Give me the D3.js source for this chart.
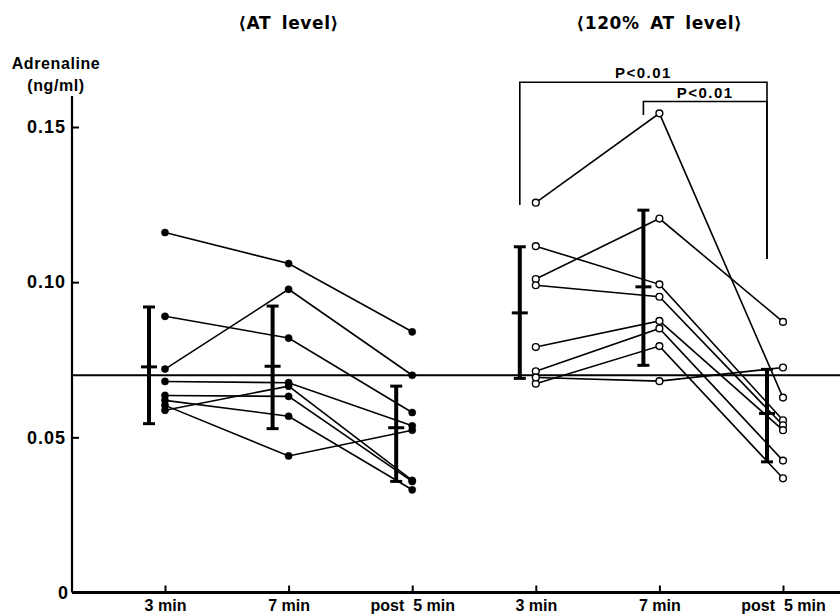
<!DOCTYPE html>
<html>
<head>
<meta charset="utf-8">
<script src="https://cdn.jsdelivr.net/npm/d3@7"></script>
<style>
  body { margin: 0; background: #fff; }
  text { font-family: "Liberation Sans", Arial, sans-serif; font-weight: bold; fill: #000; }
</style>
</head>
<body>
<div id="chart"></div>
<script>
// categories (two panels, three time points each)
const categories = ['at3', 'at7', 'atPost', 'hi3', 'hi7', 'hiPost']
const categoryLabels = ['3 min', '7 min', 'post  5 min', '3 min', '7 min', 'post  5 min']
const panelTitles = ['⟨AT level⟩', '⟨120% AT level⟩']
const yTicks = [0, 0.05, 0.10, 0.15]
const yTickLabels = ['0', '0.05', '0.10', '0.15']
const refLevel = 0.070

// individual subjects, AT level (3 min, 7 min, post 5 min)
const atSubjects = [
    [0.116, 0.106, 0.084],
    [0.072, 0.0977, 0.070],
    [0.089, 0.082, 0.058],
    [0.068, 0.0676, 0.0537],
    [0.0603, 0.044, 0.0523],
    [0.0587, 0.0665, 0.0361],
    [0.0635, 0.0632, 0.0358],
    [0.0619, 0.0568, 0.0331],
]

// individual subjects, 120% AT level
const hiSubjects = [
    [0.1256, 0.1544, 0.0628],
    [0.1010, 0.1205, 0.0872],
    [0.1116, 0.0993, 0.0555],
    [0.0990, 0.0953, 0.0539],
    [0.0791, 0.0875, 0.0523],
    [0.0713, 0.0851, 0.0425],
    [0.0673, 0.0794, 0.0368],
    [0.0693, 0.0681, 0.0725],
]

// mean and SD limits per time point
const atMean = [0.0727, 0.0729, 0.0531]
const atLow = [0.0544, 0.0528, 0.0358]
const atHigh = [0.092, 0.0923, 0.0665]
const hiMean = [0.0901, 0.0985, 0.0577]
const hiLow = [0.069, 0.0732, 0.0421]
const hiHigh = [0.1114, 0.1232, 0.0719]

// significance brackets
const brackets = [
    { from: 'hi3', to: 'hiPost', top: 0.1644, leftEnd: 0.1249, rightEnd: 0.1075, label: 'P<0.01' },
    { from: 'hi7', to: 'hiPost', top: 0.1582, leftEnd: 0.1539, rightEnd: 0.1075, label: 'P<0.01' },
]

const width = 840
const height = 616
const axisX = 72

const svg = d3.select('#chart')
    .append('svg')
    .attr('width', width)
    .attr('height', height)

const x = d3.scalePoint()
    .domain(categories)
    .range([165, 783])

const y = d3.scaleLinear()
    .domain([0, 0.15])
    .range([592.5, 127])

const barShift = -16

// axes
const yAxis = svg.append('g')
    .attr('transform', `translate(${axisX},0)`)
    .call(d3.axisLeft(y).tickValues(yTicks).tickSize(-7).tickPadding(6)
        .tickFormat((d, i) => yTickLabels[i]))
yAxis.select('.domain').attr('d', `M0,${y(0)}V96`).attr('stroke-width', 2.2)
yAxis.selectAll('.tick line').attr('stroke-width', 2)
yAxis.selectAll('.tick text').style('font-size', '18px').style('letter-spacing', '1px')
    .attr('fill', '#000').attr('font-family', null)
yAxis.selectAll('.tick').filter(d => d === 0).select('line').remove()
yAxis.selectAll('.tick').filter(d => d === 0).select('text').attr('x', -3)

const xAxis = svg.append('g')
    .attr('transform', `translate(0,${y(0)})`)
    .call(d3.axisBottom(x).tickSize(-7).tickPadding(6)
        .tickFormat((d, i) => categoryLabels[i]))
xAxis.select('.domain').attr('d', `M${axisX},0H${width}`).attr('stroke-width', 3)
xAxis.selectAll('.tick line').attr('stroke-width', 2)
xAxis.selectAll('.tick text').style('font-size', '16px').attr('fill', '#000')
    .attr('font-family', null).style('white-space', 'pre').attr('dy', '0.75em')

// y label
svg.append('text').attr('x', 56).attr('y', 69).attr('text-anchor', 'middle')
    .style('font-size', '16px').style('letter-spacing', '0.6px').text('Adrenaline')
svg.append('text').attr('x', 56).attr('y', 91).attr('text-anchor', 'middle')
    .style('font-size', '16px').style('letter-spacing', '0.6px').text('(ng/ml)')

// panel titles
svg.selectAll('.title')
    .data(panelTitles)
    .join('text')
    .attr('class', 'title')
    .attr('x', (d, i) => x(categories[i * 3 + 1]))
    .attr('y', 29)
    .attr('text-anchor', 'middle')
    .style('font-family', '"DejaVu Sans", sans-serif')
    .style('font-size', '17px')
    .style('letter-spacing', '0.6px')
    .style('word-spacing', '4px')
    .text(d => d)

// reference line
svg.append('line')
    .attr('x1', axisX).attr('x2', width)
    .attr('y1', y(refLevel)).attr('y2', y(refLevel))
    .attr('stroke', '#000').attr('stroke-width', 2)

const line = d3.line()
    .x(d => x(d.c))
    .y(d => y(d.v))

function drawPanel(subjects, keys, filled, mean, low, high) {
    const g = svg.append('g')
    const rows = subjects.map(s => s.map((v, i) => ({ c: keys[i], v })))

    g.selectAll('path.subj')
        .data(rows)
        .join('path')
        .attr('class', 'subj')
        .attr('d', line)
        .attr('fill', 'none')
        .attr('stroke', '#000')
        .attr('stroke-width', 1.6)

    // mean +- SD bars
    const stats = keys.map((k, i) => ({ c: k, m: mean[i], lo: low[i], hi: high[i] }))
    const bars = g.selectAll('g.bar')
        .data(stats)
        .join('g')
        .attr('class', 'bar')
        .attr('transform', d => `translate(${x(d.c) + barShift},0)`)
        .attr('stroke', '#000')
    bars.append('line')
        .attr('y1', d => y(d.lo)).attr('y2', d => y(d.hi))
        .attr('stroke-width', 4)
    bars.append('line')
        .attr('x1', -6).attr('x2', 6)
        .attr('y1', d => y(d.lo)).attr('y2', d => y(d.lo))
        .attr('stroke-width', 3)
    bars.append('line')
        .attr('x1', -6).attr('x2', 6)
        .attr('y1', d => y(d.hi)).attr('y2', d => y(d.hi))
        .attr('stroke-width', 3)
    bars.append('line')
        .attr('x1', -8).attr('x2', 8)
        .attr('y1', d => y(d.m)).attr('y2', d => y(d.m))
        .attr('stroke-width', 3)

    g.selectAll('circle')
        .data(rows.flat())
        .join('circle')
        .attr('cx', d => x(d.c))
        .attr('cy', d => y(d.v))
        .attr('r', filled ? 3.6 : 3.4)
        .attr('fill', filled ? '#000' : '#fff')
        .attr('stroke', '#000')
        .attr('stroke-width', filled ? 0.5 : 1.4)
}

drawPanel(atSubjects, categories.slice(0, 3), true, atMean, atLow, atHigh)
drawPanel(hiSubjects, categories.slice(3), false, hiMean, hiLow, hiHigh)

// significance brackets
brackets.forEach(b => {
    const x1 = x(b.from) + barShift
    const x2 = x(b.to) + barShift
    svg.append('path')
        .attr('d', `M${x1},${y(b.leftEnd)}V${y(b.top)}H${x2}V${y(b.rightEnd)}`)
        .attr('fill', 'none')
        .attr('stroke', '#000')
        .attr('stroke-width', 1.6)
    svg.append('text')
        .attr('x', (x1 + x2) / 2)
        .attr('y', y(b.top) - 4)
        .attr('text-anchor', 'middle')
        .style('font-size', '15px')
        .style('letter-spacing', '1.5px')
        .text(b.label)
})
</script>
</body>
</html>
